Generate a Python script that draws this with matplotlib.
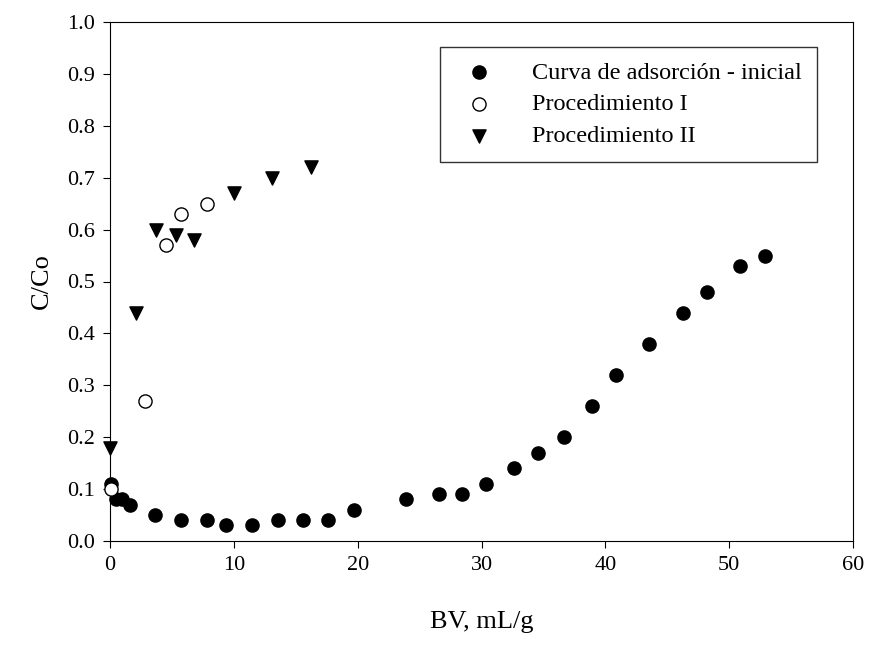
import matplotlib
matplotlib.use("Agg")
import matplotlib.pyplot as plt

plt.rcParams['font.family'] = ['Liberation Serif', 'DejaVu Serif']

# Curva de adsorcion - inicial
bv_ini = [0.1, 0.5, 1.0, 1.6, 3.6, 5.7, 7.8, 9.4, 11.5, 13.6, 15.6, 17.6, 19.7,
          23.9, 26.6, 28.4, 30.4, 32.6, 34.6, 36.7, 38.9, 40.9, 43.5, 46.3,
          48.2, 50.9, 52.9]
cc_ini = [0.11, 0.08, 0.08, 0.07, 0.05, 0.04, 0.04, 0.03, 0.03, 0.04, 0.04, 0.04,
          0.06, 0.08, 0.09, 0.09, 0.11, 0.14, 0.17, 0.20, 0.26, 0.32, 0.38, 0.44,
          0.48, 0.53, 0.55]
# Procedimiento I
bv_p1 = [0.1, 2.8, 4.5, 5.7, 7.8]
cc_p1 = [0.10, 0.27, 0.57, 0.63, 0.65]
# Procedimiento II
bv_p2 = [0.0, 2.1, 3.7, 5.3, 6.8, 10.0, 13.1, 16.2]
cc_p2 = [0.18, 0.44, 0.60, 0.59, 0.58, 0.67, 0.70, 0.72]

fig = plt.figure(figsize=(8.83, 6.63), dpi=100)
ax = fig.add_axes([110/883, 1 - 541/663, 743/883, 519/663])

ax.scatter(bv_ini, cc_ini, s=90, c='black', marker='o', label='Curva de adsorción - inicial', zorder=3, clip_on=False)
ax.scatter(bv_p1, cc_p1, s=90, facecolors='white', edgecolors='black', marker='o', label='Procedimiento I', zorder=4, clip_on=False)
ax.scatter(bv_p2, cc_p2, s=90, c='black', marker='v', label='Procedimiento II', zorder=3, clip_on=False)

ax.set_xlim(0, 60)
ax.set_ylim(0, 1.0)
ax.set_xticks(range(0, 61, 10))
ax.set_yticks([i / 10 for i in range(11)])
ax.set_yticklabels([f"{i/10:.1f}" for i in range(11)])
ax.tick_params(direction='out', labelsize=16, length=5, pad=6)
ax.set_xlabel('BV, mL/g', fontsize=19, labelpad=26)
ax.set_ylabel('C/Co', fontsize=19, labelpad=10)

leg = ax.legend(loc='upper left', bbox_to_anchor=(0.444, 0.952), fontsize=17.5,
                frameon=True, fancybox=False, edgecolor='black',
                handletextpad=1.2, borderpad=0.6, labelspacing=0.4,
                borderaxespad=0)
leg.get_frame().set_linewidth(1.0)

fig.savefig('out.png', dpi=100)
